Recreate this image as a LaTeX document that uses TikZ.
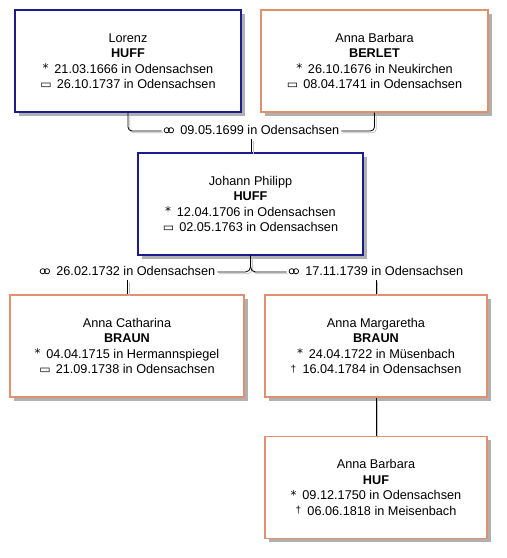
\documentclass[tikz,border=0pt]{standalone}
\usepackage{fontspec}
\setmainfont{Liberation Sans}
\newfontfamily\symf{DejaVu Sans}
\usetikzlibrary{shadows}
\definecolor{navybox}{HTML}{1C1C8A}
\definecolor{salmonbox}{HTML}{E0916C}
\definecolor{shadowgray}{HTML}{B0B0B0}
\newcommand{\bir}{\raisebox{0.1ex}{\symf\fontsize{12}{12}\selectfont *}\hspace{0.45em}}
\newcommand{\bur}{{\symf\fontsize{12}{12}\selectfont ▭}\hspace{0.4em}}
\newcommand{\dea}{{\fontsize{10}{10}\selectfont\raisebox{0.3ex}{†}}\hspace{0.5em}}
\newcommand{\mar}{\begin{tikzpicture}[baseline=0pt,x=1pt,y=1pt,line width=0.75pt]
  \draw (3,4) circle (2.6); \draw (7.3,4) circle (2.6);
  \end{tikzpicture}\hspace{0.5em}}
\tikzset{
  person/.style={draw, line width=1.4pt, fill=white, align=center, inner sep=0pt,
    minimum height=102pt, font=\fontsize{12.7}{15.5}\selectfont,
    drop shadow={shadow xshift=3.5pt, shadow yshift=-3.5pt, fill=shadowgray, opacity=1}},
  man/.style={person, draw=navybox},
  woman/.style={person, draw=salmonbox},
  marr/.style={inner sep=2pt, font=\fontsize{12.7}{14}\selectfont, text height=9pt, text depth=2.5pt},
  connshadow/.style={draw=shadowgray!80, line width=0.7pt, transform canvas={shift={(1.8pt,-1.8pt)}}},
  conn/.style={draw=black, line width=0.8pt},
}
\begin{document}
\begin{tikzpicture}[x=1pt,y=-1pt]
\useasboundingbox[fill=white] (0,0) rectangle (507,558);
\node[man, minimum width=226pt] (B1) at (128,61)
  {Lorenz\\\textbf{HUFF}\\\bir 21.03.1666 in Odensachsen\\\bur 26.10.1737 in Odensachsen};
\node[woman, minimum width=227pt] (B2) at (374.5,61)
  {Anna Barbara\\\textbf{BERLET}\\\bir 26.10.1676 in Neukirchen\\\bur 08.04.1741 in Odensachsen};
\node[man, minimum width=225pt] (B3) at (250.5,204)
  {Johann Philipp\\\textbf{HUFF}\\\bir 12.04.1706 in Odensachsen\\\bur 02.05.1763 in Odensachsen};
\node[woman, minimum width=234pt] (B4) at (127,346)
  {Anna Catharina\\\textbf{BRAUN}\\\bir 04.04.1715 in Hermannspiegel\\\bur 21.09.1738 in Odensachsen};
\node[woman, minimum width=222pt] (B5) at (376,346)
  {Anna Margaretha\\\textbf{BRAUN}\\\bir 24.04.1722 in Müsenbach\\\dea 16.04.1784 in Odensachsen};
\node[woman, minimum width=222pt] (B6) at (376,487.5)
  {Anna Barbara\\\textbf{HUF}\\\bir 09.12.1750 in Odensachsen\\\dea 06.06.1818 in Meisenbach};
\node[marr] (M1) at (251.5,131) {\mar 09.05.1699 in Odensachsen};
\node[marr] (M2) at (127.5,272) {\mar 26.02.1732 in Odensachsen};
\node[marr] (M3) at (376,272) {\mar 17.11.1739 in Odensachsen};
\foreach \st in {connshadow,conn}{
  \draw[\st, rounded corners=4pt] (B1.south) |- (M1.west);
  \draw[\st, rounded corners=4pt] (M1.east) -| (B2.south);
  \draw[\st] (M1.south) -- (M1.south |- B3.north);
  \draw[\st, rounded corners=5pt] (B3.south) |- (M2.east);
  \draw[\st, rounded corners=5pt] (B3.south) |- (M3.west);
  \draw[\st] (M2.south) -- (M2.south |- B4.north);
  \draw[\st] (M3.south) -- (M3.south |- B5.north);
  \draw[\st] (B5.south) -- (B6.north);
}
\end{tikzpicture}
\end{document}
